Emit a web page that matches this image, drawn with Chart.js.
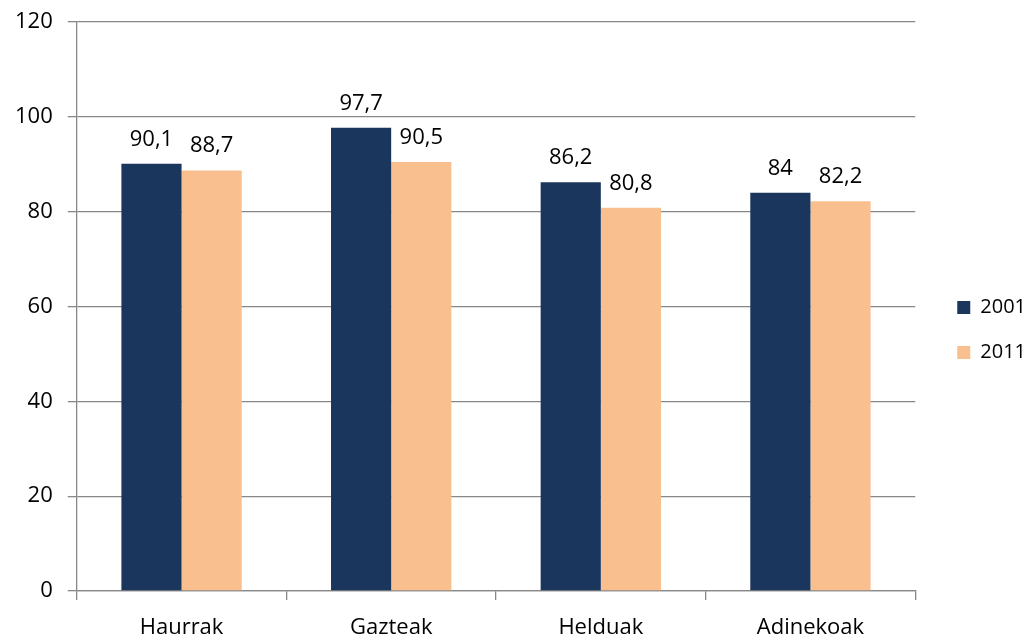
<!DOCTYPE html>
<html>
<head>
<meta charset="utf-8">
<script src="https://cdn.jsdelivr.net/npm/chart.js@4/dist/chart.umd.min.js"></script>
<style>
  html, body { margin: 0; padding: 0; background: #fff; }
  #wrap { width: 1032px; height: 638px; }
</style>
</head>
<body>
<div id="wrap"><canvas id="chartBar"></canvas></div>
<script>
var categories = ['Haurrak', 'Gazteak', 'Helduak', 'Adinekoak'];
var values2001 = [90.1, 97.7, 86.2, 84];
var values2011 = [88.7, 90.5, 80.8, 82.2];
var yTicks = [0, 20, 40, 60, 80, 100, 120];

var fontName = "'Open Sans', 'Noto Sans', sans-serif";
var gridColor = '#888888';

// etiketak barren gainean, koma hamartarrekin
var valueLabels = {
    id: 'valueLabels',
    afterDatasetsDraw: function (chart) {
        var ctx = chart.ctx;
        ctx.save();
        ctx.font = '22px ' + fontName;
        ctx.fillStyle = '#000';
        ctx.textAlign = 'center';
        ctx.textBaseline = 'alphabetic';
        chart.data.datasets.forEach(function (ds, i) {
            chart.getDatasetMeta(i).data.forEach(function (bar, j) {
                var txt = String(ds.data[j]).replace('.', ',');
                ctx.fillText(txt, bar.x, bar.y - 18);
            });
        });
        ctx.restore();
    }
};

// legenda pixka bat eskuinera
var legendShift = {
    id: 'legendShift',
    afterLayout: function (chart) {
        if (chart.legend) {
            chart.legend.left += 17;
            chart.legend.right += 17;
        }
    }
};

var ourBar = document.getElementById('chartBar');

var barChart = new Chart(ourBar, {
    type: 'bar',
    data: {
        labels: categories,
        datasets: [
            {
                label: '2001',
                data: values2001,
                backgroundColor: '#1b365d'
            },
            {
                label: '2011',
                data: values2011,
                backgroundColor: '#f9bf8f'
            }
        ]
    },
    options: {
        responsive: true,
        maintainAspectRatio: false,
        animation: false,
        layout: { padding: { top: 22, left: 0, right: 13, bottom: 0 } },
        datasets: {
            bar: { categoryPercentage: 0.574, barPercentage: 1.0 }
        },
        plugins: {
            legend: {
                position: 'right',
                align: 'center',
                labels: {
                    color: '#000',
                    font: { family: fontName, size: 20 },
                    boxWidth: 13,
                    boxHeight: 13,
                    padding: 25
                }
            },
            tooltip: { enabled: false }
        },
        scales: {
            x: {
                afterFit: function (axis) { axis.height = 47; },
                grid: {
                    drawOnChartArea: false,
                    color: gridColor,
                    tickLength: 9,
                    lineWidth: 1.3
                },
                border: { color: gridColor, width: 1.3 },
                ticks: {
                    color: '#000',
                    font: { family: fontName, size: 22, lineHeight: 1.0 },
                    padding: 17
                }
            },
            y: {
                min: 0,
                max: 120,
                afterBuildTicks: function (axis) {
                    axis.ticks = yTicks.map(function (v) { return { value: v }; });
                },
                afterFit: function (axis) {
                    axis.paddingTop = 0;
                    axis.paddingBottom = 0;
                },
                grid: {
                    color: gridColor,
                    tickLength: 9,
                    lineWidth: 1.3
                },
                border: { color: gridColor, width: 1.3 },
                ticks: {
                    color: '#000',
                    font: { family: fontName, size: 22 },
                    padding: 15
                }
            }
        }
    },
    plugins: [valueLabels, legendShift]
});
</script>
</body>
</html>
